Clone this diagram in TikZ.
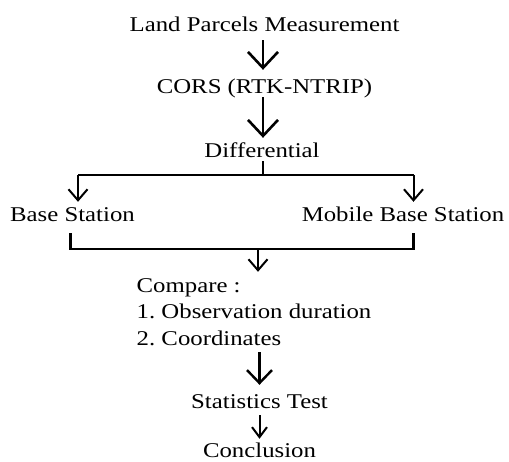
\documentclass[tikz,border=0pt]{standalone}
\usepackage{fontspec}
\setmainfont[FakeStretch=1.18]{Liberation Serif}
\usetikzlibrary{arrows.meta}
\frenchspacing
\tikzset{
  lbl/.style={inner sep=0pt, text height=15pt, text depth=4pt, anchor=base, font=\fontsize{21}{25}\selectfont\frenchspacing},
  lblw/.style={lbl, anchor=base west},
  bigarr/.style={line width=2.6pt, -{Straight Barb[length=16pt,width=30pt,line width=2.6pt]}},
  midarr/.style={line width=2.4pt, -{Straight Barb[length=13pt,width=25pt,line width=2.4pt]}},
  smallarr/.style={line width=2pt, -{Straight Barb[length=11pt,width=19pt,line width=2pt]}},
  tinyarr/.style={line width=2pt, -{Straight Barb[length=10pt,width=15pt,line width=2pt]}},
  conn/.style={line width=2.5pt, line join=miter},
}
\begin{document}
\begin{tikzpicture}[x=1pt,y=-1pt]
\useasboundingbox (0,0) rectangle (509,461);
\node[lbl] (land) at (264.5,31) {Land Parcels Measurement};
\node[lbl] (cors) at (264.5,93) {CORS (RTK-NTRIP)};
\node[lbl] (diff) at (262,157) {Differential};
\node[lbl] (base) at (72.5,221) {Base Station};
\node[lbl] (mobile) at (403,221) {Mobile Base Station};
\node[lblw] (cmp) at (136.5,292) {Compare :};
\node[lblw] (obs) at (136.5,318) {1. Observation duration};
\node[lblw] (crd) at (136.5,345) {2. Coordinates};
\node[lbl] (stats) at (259.5,408) {Statistics Test};
\node[lbl] (concl) at (259.5,457) {Conclusion};
\coordinate (split) at (263,175);
\coordinate (lt) at (78,175);
\coordinate (rt) at (413.5,175);
\coordinate (bl) at (70.7,249);
\coordinate (br) at (413.5,249);
\coordinate (mid) at (258,249);
% arrows
\draw[bigarr] ([yshift=-5pt]land.south -| split) -- ([yshift=8pt]cors.north -| split);
\draw[bigarr] (cors.south -| split) -- ([yshift=4pt]diff.north -| split);
\draw[conn] (diff.south -| split) -- (split);
\draw[conn] (lt) -- (rt);
\draw[smallarr] (lt) -- ([yshift=4pt]base.north -| lt);
\draw[smallarr] (rt) -- ([yshift=4pt]mobile.north -| rt);
\draw[conn] ([yshift=-8pt]base.south -| bl) -- (bl) -- (br) -- ([yshift=-8pt]mobile.south -| br);
\draw[smallarr] (mid) -- ([yshift=5pt]cmp.north -| mid);
\draw[midarr] ([yshift=-3pt]crd.south -| stats) -- ([yshift=8pt]stats.north);
\draw[tinyarr] ([yshift=-3pt]stats.south) -- ([yshift=3pt]concl.north);
\end{tikzpicture}
\end{document}
